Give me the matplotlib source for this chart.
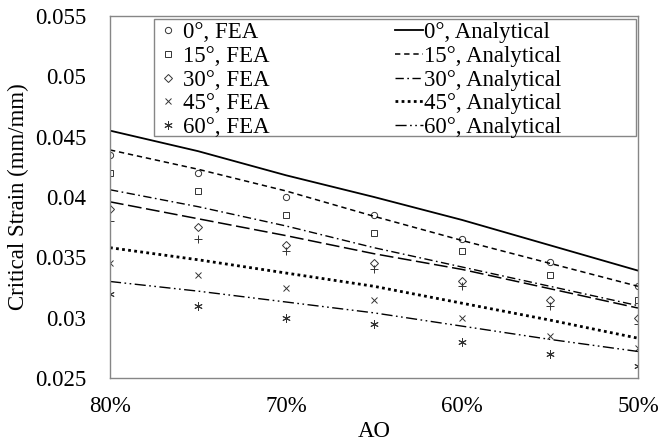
import numpy as np
import matplotlib
matplotlib.use("Agg")
import matplotlib.pyplot as plt
from matplotlib.patches import Rectangle
from matplotlib.ticker import FixedLocator, FixedFormatter

plt.rcParams['font.family'] = ['Liberation Serif', 'DejaVu Serif']

# AO (%) along the x axis, shown reversed
ao = [80, 75, 70, 65, 60, 55, 50]

# FEA results
fea_0 = [0.0435, 0.0420, 0.0400, 0.0385, 0.0365, 0.0346, 0.0326]
fea_15 = [0.0420, 0.0405, 0.0385, 0.0370, 0.0355, 0.0335, 0.0315]
fea_30 = [0.0390, 0.0375, 0.0360, 0.0345, 0.0330, 0.0315, 0.0300]
fea_extra = [0.0380, 0.0365, 0.0355, 0.0340, 0.0326, 0.0310, 0.0295]
fea_45 = [0.0345, 0.0335, 0.0325, 0.0315, 0.0300, 0.0285, 0.0275]
fea_60 = [0.0320, 0.0310, 0.0300, 0.0295, 0.0280, 0.0270, 0.0260]

# analytical curves
ana_0 = [0.0455, 0.0438, 0.0418, 0.0400, 0.0381, 0.0360, 0.0339]
ana_15 = [0.0439, 0.0423, 0.0405, 0.0384, 0.0364, 0.0345, 0.0326]
ana_30 = [0.0406, 0.0392, 0.0376, 0.0358, 0.0342, 0.0326, 0.0310]
ana_extra = [0.0396, 0.0382, 0.0368, 0.0353, 0.0340, 0.0324, 0.0308]
ana_45 = [0.0358, 0.0348, 0.0337, 0.0326, 0.0312, 0.0298, 0.0283]
ana_60 = [0.0330, 0.0322, 0.0313, 0.0304, 0.0293, 0.0282, 0.0272]

yticks = [0.025, 0.03, 0.035, 0.04, 0.045, 0.05, 0.055]
ytick_labels = ['0.025', '0.03', '0.035', '0.04', '0.045', '0.05', '0.055']
xticks = [80, 70, 60, 50]
xtick_labels = ['80%', '70%', '60%', '50%']

FS = 16.5
W, H = 661, 444

fig = plt.figure(figsize=(6.61, 4.44), dpi=100)
ax = fig.add_axes([0.1664, 0.1486, 0.7988, 0.8154])

mk = dict(linestyle='none', color='#333333', mfc='none', mew=0.7)
h_fea = []
h_fea += ax.plot(ao, fea_0, marker='o', ms=4.5, label='0°, FEA', **mk)
h_fea += ax.plot(ao, fea_15, marker='s', ms=4.5, label='15°, FEA', **mk)
h_fea += ax.plot(ao, fea_30, marker='D', ms=3.8, label='30°, FEA', **mk)
ax.plot(ao, fea_extra, marker='+', ms=6, **mk)
h_fea += ax.plot(ao, fea_45, marker='x', ms=5, label='45°, FEA', **mk)
h_fea += ax.plot(ao, fea_60, marker=(6, 2, 0), ms=6, label='60°, FEA', **mk)

h_ana = []
h_ana += ax.plot(ao, ana_0, color='black', lw=1.3, label='0°, Analytical')
h_ana += ax.plot(ao, ana_15, color='black', lw=1.1, dashes=(3.5, 2.5), label='15°, Analytical')
h_ana += ax.plot(ao, ana_30, color='black', lw=1.0, dashes=(6, 2.5, 1.2, 2.5), label='30°, Analytical')
ax.plot(ao, ana_extra, color='black', lw=1.1, dashes=(9, 3))
h_ana += ax.plot(ao, ana_45, color='black', lw=2.0, dashes=(1, 1.2), label='45°, Analytical')
h_ana += ax.plot(ao, ana_60, color='black', lw=1.0, dashes=(8, 2.5, 1.2, 2.5, 1.2, 2.5), label='60°, Analytical')

ax.set_xlim(80, 50)
ax.set_ylim(0.025, 0.055)
ax.xaxis.set_major_locator(FixedLocator(xticks))
ax.xaxis.set_major_formatter(FixedFormatter(xtick_labels))
ax.yaxis.set_major_locator(FixedLocator(yticks))
ax.yaxis.set_major_formatter(FixedFormatter(ytick_labels))
ax.tick_params(length=0, labelsize=FS, colors='black')
ax.tick_params(axis='y', pad=17)
ax.tick_params(axis='x', pad=13)
for s in ax.spines.values():
    s.set_color('#868686')
    s.set_linewidth(1.0)

ax.set_xlabel('AO', fontsize=FS, labelpad=3)
ax.set_ylabel('Critical Strain (mm/mm)', fontsize=FS, labelpad=4)

# legend box (Excel style: wider than its content)
box = Rectangle((154 / W, 1 - 136 / H), (636 - 154) / W, (136 - 19) / H,
                transform=fig.transFigure, facecolor='white', edgecolor='#868686',
                linewidth=1.0, zorder=4)
fig.patches.append(box)

leg = fig.legend(h_fea + h_ana, [h.get_label() for h in h_fea + h_ana],
                 ncol=2, loc='upper left', bbox_to_anchor=(154 / W, 1 - 22 / H),
                 fontsize=FS, frameon=False,
                 handlelength=1.2, handletextpad=0.05, columnspacing=5.5,
                 labelspacing=0.12, borderpad=0.0, borderaxespad=0.0)
leg.set_zorder(5)

fig.savefig('out.png', dpi=100)
